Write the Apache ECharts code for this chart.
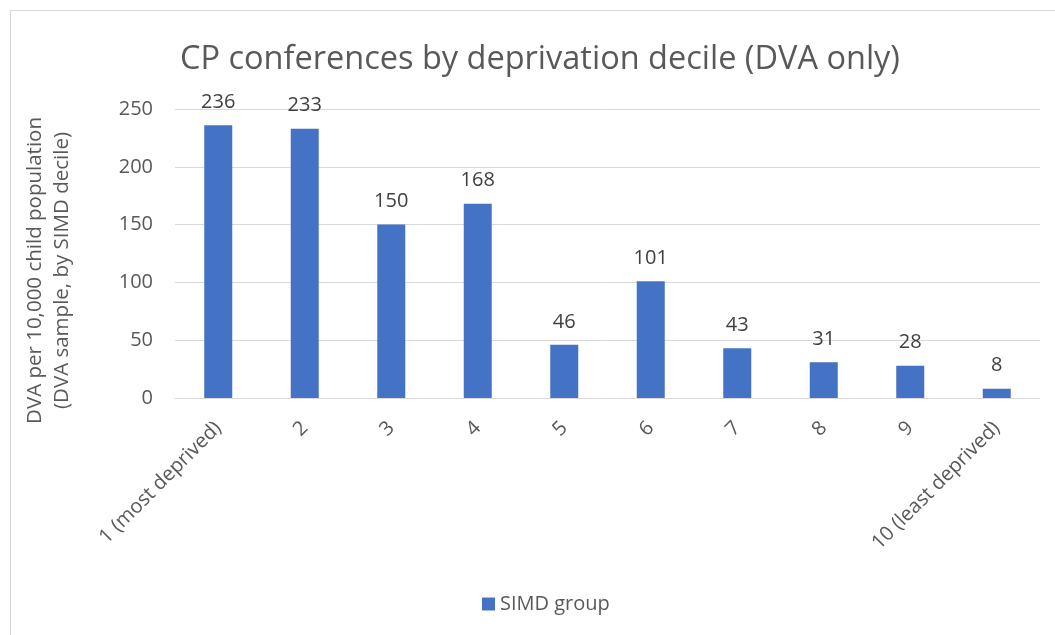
<!DOCTYPE html>
<html><head><meta charset="utf-8">
<script src="https://cdn.jsdelivr.net/npm/echarts@6/dist/echarts.min.js"></script>
<style>
html,body{margin:0;padding:0;background:#fff;}
#frame{position:absolute;left:10px;top:10px;width:1060px;height:640px;border:1px solid #d9d9d9;box-sizing:border-box;}
#c{position:absolute;left:0;top:0;width:1055px;height:635px;}
</style></head><body>
<div id="frame"></div>
<div id="c"></div>
<script>
const categories = ['1 (most deprived)','2','3','4','5','6','7','8','9','10 (least deprived)'];
const values = [236,233,150,168,46,101,43,31,28,8];
const seriesName = 'SIMD group';
const titleText = 'CP conferences by deprivation decile (DVA only)';
const yAxisName = 'DVA per 10,000 child population\n(DVA sample, by SIMD decile)';

const font = "'Open Sans', 'Liberation Sans', sans-serif";
const chart = echarts.init(document.getElementById('c'));
chart.setOption({
  animation:false,
  title:{text:titleText,left:535,top:38,textAlign:'center',
    textStyle:{fontFamily:font,fontSize:32.5,fontWeight:'normal',color:'#595959'}},
  grid:{left:175,right:15,top:109,bottom:237,containLabel:false},
  legend:{bottom:16,left:477,itemWidth:13,itemHeight:13,icon:'rect',itemGap:8,
    textStyle:{fontFamily:font,fontSize:20,color:'#595959'},data:[seriesName]},
  xAxis:{type:'category',data:categories,
    axisLine:{lineStyle:{color:'#d9d9d9'}},axisTick:{show:false},
    axisLabel:{rotate:45,interval:0,fontFamily:font,fontSize:20,color:'#595959',margin:27}},
  yAxis:{type:'value',min:0,max:250,interval:50,
    name:yAxisName,nameLocation:'middle',nameGap:99,nameRotate:90,
    nameTextStyle:{fontFamily:font,fontSize:20.5,color:'#595959',lineHeight:27,padding:[0,34,0,0]},
    axisLine:{show:false},axisTick:{show:false},
    axisLabel:{fontFamily:font,fontSize:20,color:'#595959',margin:22},
    splitLine:{lineStyle:{color:'#d9d9d9'}}},
  series:[{name:seriesName,type:'bar',data:values,barWidth:28,
    itemStyle:{color:'#4472c4'},
    label:{show:true,position:'top',distance:13,fontFamily:font,fontSize:20,color:'#404040'}}]
});
</script>
</body></html>
